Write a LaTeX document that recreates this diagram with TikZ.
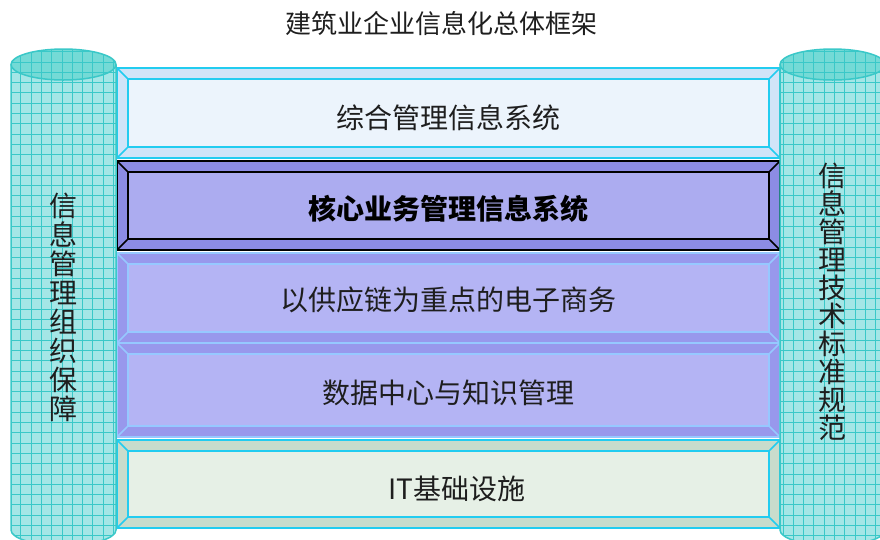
\documentclass[tikz,border=0pt]{standalone}
\usepackage{fontspec}
\newfontfamily\cjk{Noto Sans CJK SC}
\definecolor{cylbody}{RGB}{164,230,230}
\definecolor{cyltop}{RGB}{116,218,214}
\definecolor{cylline}{RGB}{58,200,200}
\definecolor{skyedge}{RGB}{34,204,240}
\definecolor{topmid}{RGB}{236,244,252}
\definecolor{topbev}{RGB}{208,228,248}
\definecolor{coremid}{RGB}{172,172,240}
\definecolor{corebev}{RGB}{140,140,228}
\definecolor{lavmid}{RGB}{180,180,244}
\definecolor{lavbev}{RGB}{152,152,236}
\definecolor{lavedge}{RGB}{150,200,255}
\definecolor{itmid}{RGB}{230,240,230}
\definecolor{itbev}{RGB}{200,220,204}
\definecolor{inkgray}{RGB}{30,30,30}

\begin{document}
\begin{tikzpicture}[x=1pt,y=-1pt,
  every node/.style={inner sep=0pt},
  outerbox/.style={minimum width=663pt, line width=1.5pt},
  innerbox/.style={minimum width=641pt, line width=1.5pt},
  lbl/.style={font=\cjk\fontsize{28}{28}\selectfont, text=inkgray},
  cylgrid/.style={cylline, line width=0.6pt, step=10.3pt},
  cyledge/.style={draw=cylline, line width=1.5pt}]
\useasboundingbox (0,0) rectangle (880,539);

\node[font=\cjk\fontsize{26}{26}\selectfont, text=inkgray] (title) at (441,24) {建筑业企业信息化总体框架};

\node[outerbox, fill=topbev, draw=skyedge, minimum height=90pt] (mis) at (448.5,113) {};
\node[innerbox, fill=topmid, draw=skyedge, minimum height=68pt] (misin) at (mis) {};
\foreach \c in {north west,north east,south west,south east}
  \draw[skyedge, line width=1.5pt] (mis.\c) -- (misin.\c);
\node[lbl] (mistxt) at (448.5,118) {综合管理信息系统};

\node[outerbox, fill=corebev, draw=black, minimum height=89pt] (core) at (448.5,205.5) {};
\node[innerbox, fill=coremid, draw=black, minimum height=67pt] (corein) at (core) {};
\foreach \c in {north west,north east,south west,south east}
  \draw[black, line width=1.5pt] (core.\c) -- (corein.\c);
\node[lbl, font=\cjk\bfseries\fontsize{28}{28}\selectfont, text=black] (coretxt) at (448.5,209) {核心业务管理信息系统};

\node[outerbox, fill=lavbev, draw=lavedge, minimum height=90pt] (supply) at (448.5,298) {};
\node[innerbox, fill=lavmid, draw=lavedge, minimum height=68pt] (supplyin) at (supply) {};
\foreach \c in {north west,north east,south west,south east}
  \draw[lavedge, line width=1.5pt] (supply.\c) -- (supplyin.\c);
\node[lbl] (supplytxt) at (448.5,300) {以供应链为重点的电子商务};

\node[outerbox, fill=lavbev, draw=lavedge, minimum height=94pt] (data) at (448.5,390) {};
\node[innerbox, fill=lavmid, draw=lavedge, minimum height=72pt] (datain) at (data) {};
\foreach \c in {north west,north east,south west,south east}
  \draw[lavedge, line width=1.5pt] (data.\c) -- (datain.\c);
\node[lbl] (datatxt) at (448.5,393) {数据中心与知识管理};

\node[outerbox, fill=itbev, draw=skyedge, minimum height=88pt] (infra) at (448.5,484) {};
\node[innerbox, fill=itmid, draw=skyedge, minimum height=66pt] (infrain) at (infra) {};
\foreach \c in {north west,north east,south west,south east}
  \draw[skyedge, line width=1.5pt] (infra.\c) -- (infrain.\c);
\node[lbl] (infratxt) at (457,489) {IT基础设施};

\foreach \cx in {63.5,832.5} {
  \begin{scope}
    \clip (\cx-52.5,64.5) -- (\cx-52.5,530)
      arc[start angle=180, end angle=0, x radius=52.5, y radius=15.5]
      -- (\cx+52.5,64.5)
      arc[start angle=0, end angle=-180, x radius=52.5, y radius=15.5] -- cycle;
    \fill[cylbody] (\cx-60,30) rectangle (\cx+60,560);
    \draw[cylgrid] (\cx-60,30) grid (\cx+60,560);
  \end{scope}
  \draw[cyledge] (\cx-52.5,64.5) -- (\cx-52.5,530)
    arc[start angle=180, end angle=0, x radius=52.5, y radius=15.5]
    -- (\cx+52.5,64.5);
  \begin{scope}
    \clip (\cx,64.5) ellipse [x radius=52.5, y radius=15.5];
    \fill[cyltop] (\cx-60,40) rectangle (\cx+60,90);
    \draw[cylgrid] (\cx-60,30) grid (\cx+60,100);
  \end{scope}
  \draw[cyledge] (\cx,64.5) ellipse [x radius=52.5, y radius=15.5];
}

\node[lbl, align=center, font=\cjk\fontsize{28}{29}\selectfont] (orgtxt) at (63.5,307)
  {信\\息\\管\\理\\组\\织\\保\\障};
\node[lbl, align=center, font=\cjk\fontsize{28}{28}\selectfont] (stdtxt) at (832.5,302)
  {信\\息\\管\\理\\技\\术\\标\\准\\规\\范};
\end{tikzpicture}
\end{document}
